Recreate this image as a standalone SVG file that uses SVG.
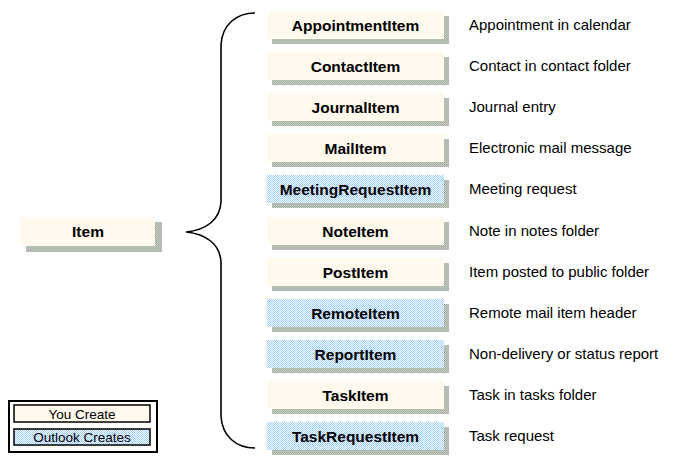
<svg xmlns="http://www.w3.org/2000/svg" width="674" height="463" viewBox="0 0 674 463">
<defs>
<pattern id="blue" width="2" height="2" patternUnits="userSpaceOnUse">
<rect width="2" height="2" fill="#ffffff"/>
<rect width="1" height="1" fill="#99ccff"/>
<rect x="1" y="1" width="1" height="1" fill="#99ccff"/>
</pattern>
<pattern id="shade" width="2" height="2" patternUnits="userSpaceOnUse">
<rect width="2" height="2" fill="#c4ccbc"/>
<rect width="1" height="1" fill="#a4a8b4"/>
<rect x="1" y="1" width="1" height="1" fill="#a8b4a0"/>
</pattern>
</defs>
<style>
.sh{fill:url(#shade)}
.cr{fill:#fff9ee}
.bl{fill:url(#blue)}
.lb{font-family:"Liberation Sans",Arial,sans-serif;font-weight:bold;font-size:15.5px;text-anchor:middle;fill:#000}
.ds{font-family:"Liberation Sans",Arial,sans-serif;font-size:15px;fill:#000}
.lg{font-family:"Liberation Sans",Arial,sans-serif;font-size:13.5px;text-anchor:middle;fill:#000}
</style>
<rect width="674" height="463" fill="#ffffff"/>

<g id="connectors">
<path d="M255,13 C236,13 222,25 221,45 L221,202 C220,220 206,230 186,232 C206,234 220,244 221,262 L221,416 C222,436 236,448 255,448" fill="none" stroke="#000" stroke-width="1.6"/>
</g>

<g id="item">
<rect class="sh" x="26" y="222" width="136" height="30"/>
<rect class="cr" x="20" y="217" width="135" height="29"/>
<text class="lb" x="88" y="237">Item</text>
</g>

<g id="AppointmentItem">
<rect class="sh" x="272" y="16" width="177" height="28"/>
<rect class="cr" x="267" y="11" width="177" height="28"/>
<text class="lb" x="355.5" y="31">AppointmentItem</text>
<text class="ds" x="469" y="30">Appointment in calendar</text>
</g>
<g id="ContactItem">
<rect class="sh" x="272" y="57" width="177" height="28"/>
<rect class="cr" x="267" y="52" width="177" height="28"/>
<text class="lb" x="355.5" y="72">ContactItem</text>
<text class="ds" x="469" y="71">Contact in contact folder</text>
</g>
<g id="JournalItem">
<rect class="sh" x="272" y="98" width="177" height="28"/>
<rect class="cr" x="267" y="93" width="177" height="28"/>
<text class="lb" x="355.5" y="113">JournalItem</text>
<text class="ds" x="469" y="112">Journal entry</text>
</g>
<g id="MailItem">
<rect class="sh" x="272" y="139" width="177" height="28"/>
<rect class="cr" x="267" y="134" width="177" height="28"/>
<text class="lb" x="355.5" y="154">MailItem</text>
<text class="ds" x="469" y="153">Electronic mail message</text>
</g>
<g id="MeetingRequestItem">
<rect class="sh" x="272" y="180" width="177" height="28"/>
<rect class="bl" x="267" y="175" width="177" height="28"/>
<text class="lb" x="355.5" y="195">MeetingRequestItem</text>
<text class="ds" x="469" y="194">Meeting request</text>
</g>
<g id="NoteItem">
<rect class="sh" x="272" y="222" width="177" height="28"/>
<rect class="cr" x="267" y="217" width="177" height="28"/>
<text class="lb" x="355.5" y="237">NoteItem</text>
<text class="ds" x="469" y="236">Note in notes folder</text>
</g>
<g id="PostItem">
<rect class="sh" x="272" y="263" width="177" height="28"/>
<rect class="cr" x="267" y="258" width="177" height="28"/>
<text class="lb" x="355.5" y="278">PostItem</text>
<text class="ds" x="469" y="277">Item posted to public folder</text>
</g>
<g id="RemoteItem">
<rect class="sh" x="272" y="304" width="177" height="28"/>
<rect class="bl" x="267" y="299" width="177" height="28"/>
<text class="lb" x="355.5" y="319">RemoteItem</text>
<text class="ds" x="469" y="318">Remote mail item header</text>
</g>
<g id="ReportItem">
<rect class="sh" x="272" y="345" width="177" height="28"/>
<rect class="bl" x="267" y="340" width="177" height="28"/>
<text class="lb" x="355.5" y="360">ReportItem</text>
<text class="ds" x="469" y="359">Non-delivery or status report</text>
</g>
<g id="TaskItem">
<rect class="sh" x="272" y="386" width="177" height="28"/>
<rect class="cr" x="267" y="381" width="177" height="28"/>
<text class="lb" x="355.5" y="401">TaskItem</text>
<text class="ds" x="469" y="400">Task in tasks folder</text>
</g>
<g id="TaskRequestItem">
<rect class="sh" x="272" y="427" width="177" height="28"/>
<rect class="bl" x="267" y="422" width="177" height="28"/>
<text class="lb" x="355.5" y="442">TaskRequestItem</text>
<text class="ds" x="469" y="441">Task request</text>
</g>

<g id="legend">
<rect x="9" y="401" width="148" height="51" fill="#ffffff" stroke="#000" stroke-width="2"/>
<rect x="14" y="405" width="136" height="17" fill="#fff9ee" stroke="#000" stroke-width="1.5"/>
<text class="lg" x="82" y="418.5">You Create</text>
<rect x="14" y="429" width="136" height="16" fill="url(#blue)" stroke="#000" stroke-width="1.5"/>
<text class="lg" x="82" y="442">Outlook Creates</text>
</g>
</svg>
